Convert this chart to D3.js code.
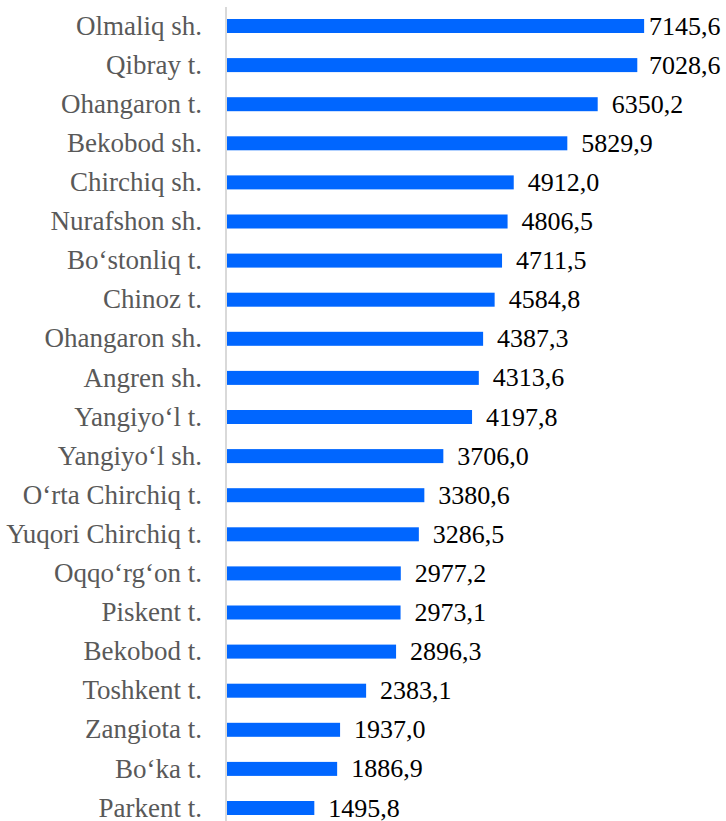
<!DOCTYPE html>
<html>
<head>
<meta charset="utf-8">
<script src="https://cdn.jsdelivr.net/npm/d3@7"></script>
<style>
  body { margin: 0; background: #fff; }
</style>
</head>
<body>
<script>
var categories = ['Olmaliq sh.', 'Qibray t.', 'Ohangaron t.', 'Bekobod sh.', 'Chirchiq sh.',
  'Nurafshon sh.', 'Bo‘stonliq t.', 'Chinoz t.', 'Ohangaron sh.', 'Angren sh.',
  'Yangiyo‘l t.', 'Yangiyo‘l sh.', 'O‘rta Chirchiq t.', 'Yuqori Chirchiq t.', 'Oqqo‘rg‘on t.',
  'Piskent t.', 'Bekobod t.', 'Toshkent t.', 'Zangiota t.', 'Bo‘ka t.', 'Parkent t.'];
var values = [7145.6, 7028.6, 6350.2, 5829.9, 4912.0, 4806.5, 4711.5, 4584.8, 4387.3, 4313.6,
  4197.8, 3706.0, 3380.6, 3286.5, 2977.2, 2973.1, 2896.3, 2383.1, 1937.0, 1886.9, 1495.8];

var W = 726, H = 821;
var margin = { top: 0, right: 32, bottom: 0, left: 227 };

var svg = d3.select('body').append('svg')
  .attr('width', W)
  .attr('height', H);

var g = svg.append('g')
  .attr('transform', `translate(${margin.left}, ${margin.top})`);

var xScale = d3.scaleLinear().domain([0, 8000]).range([0, 467]);
var yScale = d3.scalePoint().domain(categories).range([26, 808]);
var barH = 14;

var data = categories.map(function(c, i) { return { c: c, v: values[i] }; });

// axis line
g.append('line')
  .attr('x1', -1).attr('x2', -1)
  .attr('y1', 7).attr('y2', H)
  .attr('stroke', '#d9d9d9')
  .attr('stroke-width', 2);

g.selectAll('.bar')
  .data(data)
  .enter().append('rect')
  .attr('class', 'bar')
  .attr('x', 0)
  .attr('y', function(d) { return yScale(d.c) - barH / 2; })
  .attr('width', function(d) { return xScale(d.v); })
  .attr('height', barH)
  .attr('fill', '#0066ff');

// category labels
g.selectAll('.cat')
  .data(data)
  .enter().append('text')
  .attr('class', 'cat')
  .attr('x', -25)
  .attr('y', function(d) { return yScale(d.c); })
  .attr('dy', '0.32em')
  .attr('text-anchor', 'end')
  .attr('fill', '#595959')
  .style('font-family', '"Liberation Serif"')
  .style('font-size', '27px')
  .text(function(d) { return d.c; });

// value labels (top ones pushed in so they stay inside the frame)
var fmt = function(v) { return v.toFixed(1).replace('.', ','); };
g.selectAll('.val')
  .data(data)
  .enter().append('text')
  .attr('class', 'val')
  .attr('x', function(d) { return Math.min(xScale(d.v) + 14, 422); })
  .attr('y', function(d) { return yScale(d.c); })
  .attr('dy', '0.33em')
  .attr('fill', '#000')
  .style('font-family', '"Liberation Serif"')
  .style('font-size', '26px')
  .text(function(d) { return fmt(d.v); });
</script>
</body>
</html>
